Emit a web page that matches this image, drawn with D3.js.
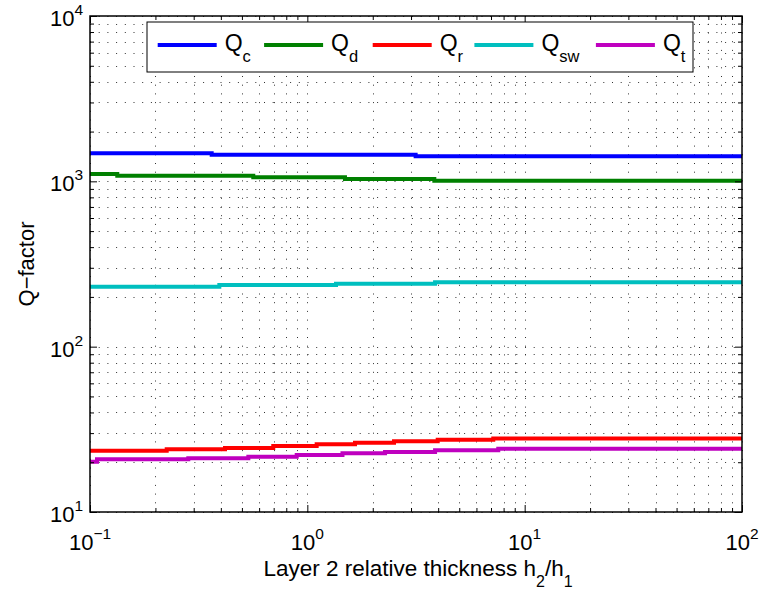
<!DOCTYPE html>
<html>
<head>
<meta charset="utf-8">
<script src="https://cdn.jsdelivr.net/npm/d3@7"></script>
<style>
  body { margin: 0; background: #fff; }
  svg text { font-family: "Liberation Sans", Arial, Helvetica, sans-serif; fill: #000; }
</style>
</head>
<body>
<svg id="chart" width="761" height="596"></svg>
<script>
// Q-factor components versus relative thickness of layer 2 (h2/h1)
// Each series is a list of breakpoints; the value holds until the next breakpoint.
const qcX  = [0.1, 0.363, 3.15, 100];
const qcY  = [1477, 1449, 1417, 1417];

const qdX  = [0.1, 0.1335, 0.564, 1.49, 3.84, 100];
const qdY  = [1108, 1081, 1057, 1033, 1008, 1008];

const qrX  = [0.1, 0.2254, 0.418, 0.697, 1.104, 1.657, 2.505, 3.98, 7.17, 100];
const qrY  = [23.49, 23.94, 24.38, 25.07, 25.67, 26.25, 26.77, 27.37, 27.83, 27.83];

const qswX = [0.1, 0.3936, 1.355, 3.87, 100];
const qswY = [230.6, 236.0, 240.0, 245.1, 245.1];

const qtX  = [0.1, 0.1077, 0.2833, 0.5353, 0.8935, 1.451, 2.278, 3.87, 7.56, 100];
const qtY  = [20.15, 20.84, 21.13, 21.60, 22.12, 22.65, 23.07, 23.62, 24.12, 24.12];

const seriesSubs   = ["c", "d", "r", "sw", "t"];
const seriesColors = ["#0000ff", "#008000", "#ff0000", "#00bfbf", "#bf00bf"];

const xMajor = [0.1, 1, 10, 100];
const xExp   = ["\u22121", "0", "1", "2"];
const yMajor = [10, 100, 1000, 10000];
const yExp   = ["1", "2", "3", "4"];

const xTitle = "Layer 2 relative thickness h";
const yTitle = "Q\u2212factor";

// ---- layout ----
const L = 90, R = 742, T = 16, B = 512;
const svg = d3.select("#chart");

const x = d3.scaleLog().domain([0.1, 100]).range([L, R]);
const y = d3.scaleLog().domain([10, 10000]).range([B, T]);

function minorsOf(major) {
  const out = [];
  for (let i = 0; i < major.length - 1; i++)
    for (let k = 2; k <= 9; k++) out.push(major[i] * k);
  return out;
}
const xMinor = minorsOf(xMajor);
const yMinor = minorsOf(yMajor);

// ---- dotted grid ----
const grid = svg.append("g").attr("stroke", "#000").attr("stroke-width", 1)
  .attr("stroke-dasharray", "1,7.7").attr("opacity", 0.8).attr("fill", "none");
grid.selectAll("line.gx").data(xMajor.concat(xMinor)).join("line")
  .attr("class", "gx")
  .attr("x1", d => Math.round(x(d)) + 0.5).attr("x2", d => Math.round(x(d)) + 0.5)
  .attr("y1", B).attr("y2", T);
grid.selectAll("line.gy").data(yMajor.concat(yMinor)).join("line")
  .attr("class", "gy")
  .attr("y1", d => Math.round(y(d)) + 0.5).attr("y2", d => Math.round(y(d)) + 0.5)
  .attr("x1", L).attr("x2", R);

// ---- data lines ----
const series = [
  { xs: qcX,  ys: qcY  },
  { xs: qdX,  ys: qdY  },
  { xs: qrX,  ys: qrY  },
  { xs: qswX, ys: qswY },
  { xs: qtX,  ys: qtY  }
].map((s, i) => ({ pts: s.xs.map((v, j) => [v, s.ys[j]]), sub: seriesSubs[i], color: seriesColors[i] }));

const line = d3.line().x(d => x(d[0])).y(d => y(d[1])).curve(d3.curveStepAfter);
svg.append("g").selectAll("path").data(series).join("path")
  .attr("d", d => line(d.pts))
  .attr("fill", "none")
  .attr("stroke", d => d.color)
  .attr("stroke-width", 4);

// ---- axes (ticks inside on all four sides) ----
function tickAxis(axisFn, scale, values, size, transform) {
  const g = svg.append("g").attr("transform", transform)
    .call(axisFn(scale).tickValues(values).tickSizeInner(-size).tickSizeOuter(0).tickFormat(""));
  g.select(".domain").remove();
  g.selectAll(".tick line").attr("stroke", "#000").attr("stroke-width", 1);
}
tickAxis(d3.axisBottom, x, xMajor, 7, `translate(0,${B})`);
tickAxis(d3.axisBottom, x, xMinor, 4, `translate(0,${B})`);
tickAxis(d3.axisTop,    x, xMajor, 7, `translate(0,${T})`);
tickAxis(d3.axisTop,    x, xMinor, 4, `translate(0,${T})`);
tickAxis(d3.axisLeft,   y, yMajor, 7, `translate(${L},0)`);
tickAxis(d3.axisLeft,   y, yMinor, 4, `translate(${L},0)`);
tickAxis(d3.axisRight,  y, yMajor, 7, `translate(${R},0)`);
tickAxis(d3.axisRight,  y, yMinor, 4, `translate(${R},0)`);

svg.append("rect").attr("x", L).attr("y", T).attr("width", R - L).attr("height", B - T)
  .attr("fill", "none").attr("stroke", "#000").attr("stroke-width", 1.5);

// ---- tick labels 10^n ----
const xl = svg.append("g").selectAll("text").data(xMajor).join("text")
  .attr("x", d => x(d)).attr("y", B + 38).attr("text-anchor", "middle");
xl.append("tspan").attr("font-size", 22).text("10");
xl.append("tspan").attr("font-size", 15.5).attr("dy", -11).text((d, i) => xExp[i]);

const yl = svg.append("g").selectAll("text").data(yMajor).join("text")
  .attr("x", L - 7).attr("y", d => y(d) + 10).attr("text-anchor", "end");
yl.append("tspan").attr("font-size", 22).text("10");
yl.append("tspan").attr("font-size", 15.5).attr("dy", -11).text((d, i) => yExp[i]);

// ---- axis titles ----
const xt = svg.append("text").attr("x", (L + R) / 2 + 2).attr("y", 576)
  .attr("text-anchor", "middle").attr("font-size", 22.5);
xt.append("tspan").text(xTitle);
xt.append("tspan").attr("font-size", 16).attr("dy", 11).text("2");
xt.append("tspan").attr("dy", -11).text("/h");
xt.append("tspan").attr("font-size", 16).attr("dy", 11).text("1");

svg.append("text").attr("transform", `translate(34,${(T + B) / 2}) rotate(-90)`)
  .attr("text-anchor", "middle").attr("font-size", 22).text(yTitle);

// ---- legend ----
const legend = svg.append("g");
legend.append("rect").attr("x", 147).attr("y", 22).attr("width", 546).attr("height", 50)
  .attr("fill", "#fff").attr("stroke", "#000").attr("stroke-width", 1);
const legendX = [157.7, 264.1, 372.7, 474.4, 595.9];
series.forEach((s, i) => {
  const x0 = legendX[i];
  legend.append("line").attr("x1", x0).attr("x2", x0 + 59).attr("y1", 45).attr("y2", 45)
    .attr("stroke", s.color).attr("stroke-width", 4);
  const t = legend.append("text").attr("x", x0 + 67).attr("y", 51).attr("font-size", 23);
  t.append("tspan").text("Q");
  t.append("tspan").attr("font-size", 16.5).attr("dy", 11).text(s.sub);
});
</script>
</body>
</html>
